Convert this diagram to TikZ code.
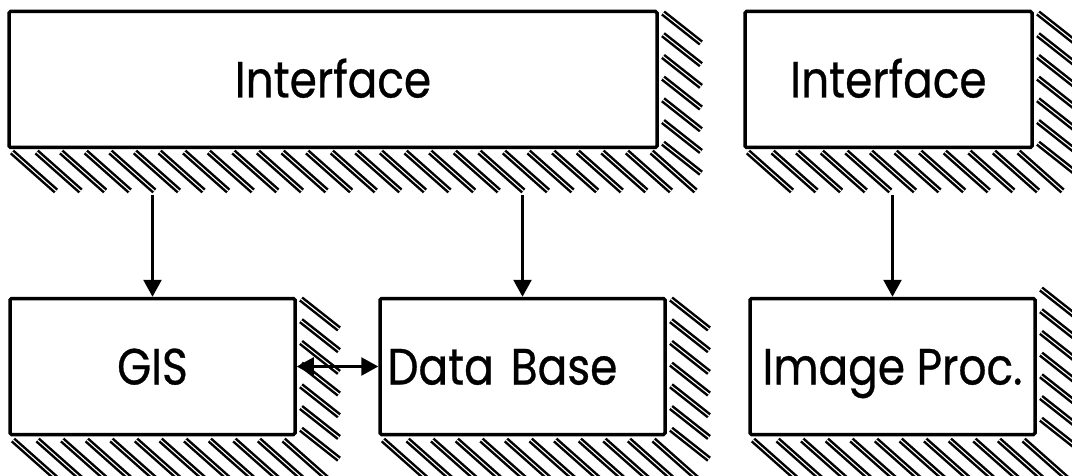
\documentclass[tikz,border=0pt]{standalone}
\usepackage{fontspec}
\newfontfamily\boxfont[FakeStretch=0.86,FakeBold=0.6]{Poppins}
\usetikzlibrary{arrows.meta,calc}
\tikzset{
  blk/.style={draw, fill=white, line width=3.5pt, rounded corners=1.5pt, inner sep=0pt,
    minimum height=136pt, text height=36pt, text depth=0pt,
    font=\boxfont\fontsize{51}{56}\selectfont},
  hatchline/.style={double, line width=2.5pt, double distance=1.1pt},
  link/.style={line width=2.6pt, -{Triangle[width=18pt,length=17pt]}},
  dlink/.style={line width=2.6pt, {Triangle[width=18pt,length=17pt]}-{Triangle[width=18pt,length=17pt]}},
}
% hatched shadow below and right of a box: left, right, bottom, top, lift of right band
\newcommand\hatchshadow[5]{%
  \pgfmathtruncatemacro\nb{(#2-#1-3)/24.6}%
  \foreach \i in {0,...,\nb}{%
    \pgfmathsetmacro\hx{#1+3+24.6*\i}%
    \draw[hatchline] (\hx,#3-5) -- ++(44,-39);
  }%
  \foreach \i in {0,...,6}{%
    \pgfmathsetmacro\hy{#4-1+#5-21.7*\i}%
    \draw[hatchline] (#2+6,\hy) -- ++(38,-30);
  }%
}
\begin{document}
\begin{tikzpicture}[x=1pt,y=1pt]
  \fill[white] (0,0) rectangle (1072,475);
  \useasboundingbox (0,0) rectangle (1072,475);
  \clip (0,0) rectangle (1072,475);

  % shadows
  \hatchshadow{9}{657}{328}{463}{0}
  \hatchshadow{745}{1032}{328}{463}{0}
  \hatchshadow{10}{295}{40}{177}{0}
  \hatchshadow{380}{665}{40}{177}{0}
  \hatchshadow{750}{1035}{40}{177}{10}

  % boxes
  \node[blk, minimum width=648pt] (if1) at (333,395.5) {Interface};
  \node[blk, minimum width=287pt] (if2) at (888.5,395.5) {Interface};
  \node[blk, minimum width=285pt] (gis) at (152.5,108.5) {GIS};
  \node[blk, minimum width=285pt, text width=270pt, align=left] (db) at (522.5,108.5) {Data Base};
  \node[blk, minimum width=285pt] (ip) at (892.5,108.5) {Image Proc.};

  % connectors
  \coordinate (s1) at ($(if1.south -| gis.north)+(0,-46)$);
  \coordinate (s2) at ($(if1.south -| db.north)+(0,-46)$);
  \coordinate (s3) at ($(if2.south -| ip.north)+(0,-46)$);
  \draw[link] (s1) -- (gis.north);
  \draw[link] (s2) -- (db.north);
  \draw[link] (s3) -- (ip.north);
  \draw[dlink] (gis.east) -- (db.west);
\end{tikzpicture}
\end{document}
